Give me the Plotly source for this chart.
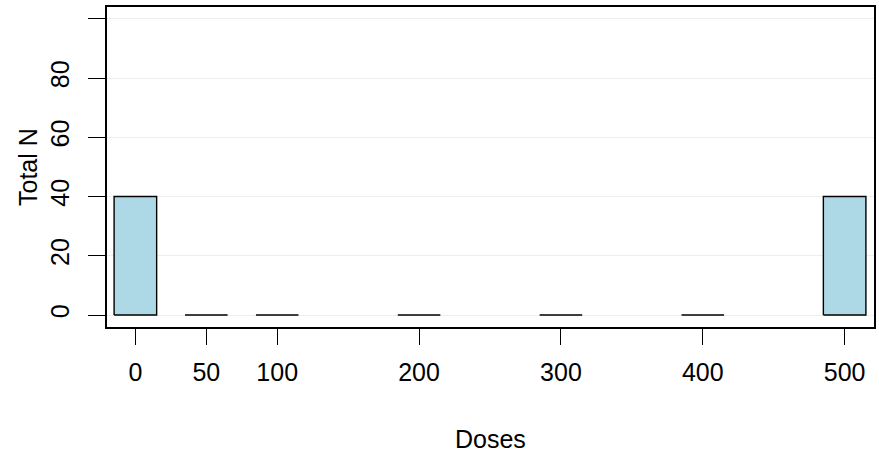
import plotly.graph_objects as go

# Dose groups and total number of subjects per group
doses = [0, 50, 100, 200, 300, 400, 500]
total_n = [40, 0, 0, 0, 0, 0, 40]
bar_width = 30

y_ticks = [0, 20, 40, 60, 80, 100]
y_tick_labels = ["0", "20", "40", "60", "80", ""]
x_tick_labels = [str(d) for d in doses]

FONT = "Liberation Sans, Arial, Helvetica, sans-serif"
FS = 25

fig = go.Figure()

# Filled bars
fig.add_trace(go.Bar(
    x=doses, y=total_n, width=bar_width,
    marker=dict(color="#ADD8E6", line=dict(width=0)),
    hoverinfo="x+y", showlegend=False,
))

# Bar outlines (also visible for zero-height groups)
ox, oy = [], []
for d, n in zip(doses, total_n):
    x0, x1 = d - bar_width / 2, d + bar_width / 2
    ox += [x0, x0, x1, x1, x0, None]
    oy += [0, n, n, 0, 0, None]
fig.add_trace(go.Scatter(
    x=ox, y=oy, mode="lines",
    line=dict(color="black", width=1.4),
    hoverinfo="skip", showlegend=False,
))

fig.update_layout(
    width=879, height=458,
    margin=dict(l=107, r=3, t=6.5, b=131),
    paper_bgcolor="white", plot_bgcolor="white",
    font=dict(family=FONT, size=FS, color="black"),
    bargap=0,
    xaxis=dict(
        range=[-20, 520.7],
        tickmode="array", tickvals=doses, ticktext=x_tick_labels,
        ticks="outside", ticklen=16, tickwidth=1.2, tickcolor="black",
        showgrid=False, zeroline=False,
        showline=True, linecolor="black", linewidth=1.6, mirror=True,
        ticklabelstandoff=6,
        tickfont=dict(family=FONT, size=FS),
    ),
    yaxis=dict(
        range=[-4.05, 104],
        tickmode="array", tickvals=y_ticks, ticktext=y_tick_labels,
        tickangle=-90,
        ticks="outside", ticklen=17, tickwidth=1.2, tickcolor="black",
        showgrid=True, gridcolor="#eeeeee", gridwidth=1.2,
        zeroline=False,
        showline=True, linecolor="black", linewidth=1.6, mirror=True,
        ticklabelstandoff=9,
        tickfont=dict(family=FONT, size=FS),
    ),
    annotations=[
        dict(text="Doses", xref="paper", yref="paper",
             x=0.5, y=-0.35, yanchor="middle", xanchor="center",
             showarrow=False, font=dict(family=FONT, size=FS)),
        dict(text="Total N", xref="paper", yref="paper",
             x=-0.103, y=0.5, textangle=-90, xanchor="center", yanchor="middle",
             showarrow=False, font=dict(family=FONT, size=FS)),
    ],
)

fig.write_html("out.html")
